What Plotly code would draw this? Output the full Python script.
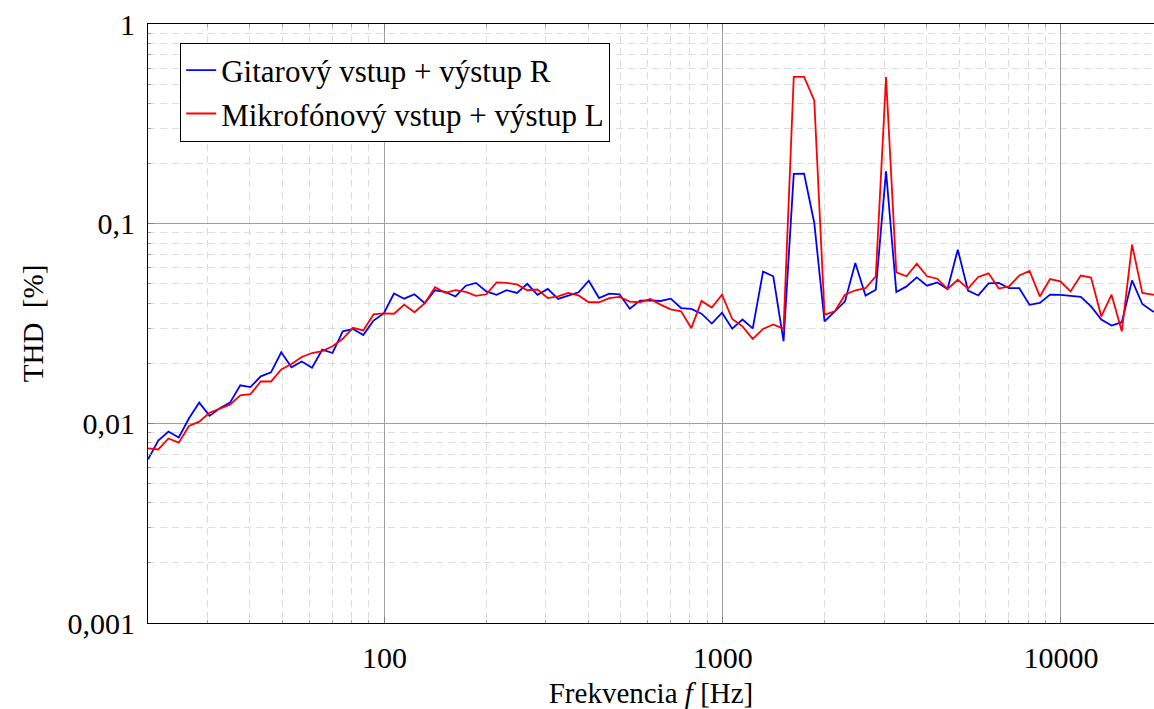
import plotly.graph_objects as go

# frekvencie merania (100 bodov, 20 Hz - 20 kHz)
frekvencia = [
    20.00, 21.45, 22.99, 24.66, 26.44, 28.35, 30.40, 32.60, 34.95, 37.48,
    40.18, 43.09, 46.20, 49.54, 53.12, 56.96, 61.08, 65.49, 70.22, 75.30,
    80.74, 86.58, 92.83, 99.54, 106.7, 114.4, 122.7, 131.6, 141.1, 151.3,
    162.2, 174.0, 186.5,
    200.0, 214.5, 229.9, 246.6, 264.4, 283.5, 304.0, 326.0, 349.5, 374.8,
    401.8, 430.9, 462.0, 495.4, 531.2, 569.6, 610.8, 654.9, 702.2, 753.0,
    807.4, 865.8, 928.3, 995.4, 1067, 1144, 1227, 1316, 1411, 1513,
    1622, 1740, 1865,
    2000, 2145, 2299, 2466, 2644, 2835, 3040, 3260, 3495, 3748,
    4018, 4309, 4620, 4954, 5312, 5696, 6108, 6549, 7022, 7530,
    8074, 8658, 9283, 9954, 10673, 11445, 12272, 13159, 14110, 15129,
    16223, 17395, 18652, 20000,
]

# THD [%] - gitarovy vstup + vystup R
thd_gitara = [
    0.0066, 0.0082, 0.0091, 0.0085, 0.0106, 0.0127, 0.0109, 0.0119, 0.0127, 0.0155,
    0.0152, 0.0172, 0.0180, 0.0227, 0.0191, 0.0204, 0.0190, 0.0234, 0.0225, 0.0289,
    0.0297, 0.0277, 0.0327, 0.0355, 0.0447,
    0.0421, 0.0443, 0.0400, 0.0464, 0.0455, 0.0432, 0.0489, 0.0505, 0.0458, 0.0440,
    0.0464, 0.0450, 0.0500, 0.0440, 0.0471, 0.0420, 0.0437, 0.0453, 0.0518, 0.0424,
    0.0446, 0.0443, 0.0375, 0.0412,
    0.0413, 0.0410, 0.0421, 0.0378, 0.0374, 0.0354, 0.0316, 0.0358, 0.0298, 0.0331,
    0.0299, 0.0575, 0.0545, 0.0258, 0.1774, 0.1780, 0.1008, 0.0324, 0.0364, 0.0408,
    0.0636, 0.0436, 0.0467, 0.1830,
    0.0455, 0.0485, 0.0538, 0.0489, 0.0508, 0.0471, 0.0741, 0.0462, 0.0437, 0.0502,
    0.0505, 0.0475, 0.0475, 0.0392, 0.0401, 0.0441, 0.0440, 0.0436, 0.0430, 0.0385,
    0.0331, 0.0309, 0.0321, 0.0520, 0.0396, 0.0364, 0.0350,
]

# THD [%] - mikrofonovy vstup + vystup L
thd_mikrofon = [
    0.0075, 0.0074, 0.0084, 0.0080, 0.0097, 0.0102, 0.0113, 0.0118, 0.0124, 0.0138,
    0.0140, 0.0162, 0.0162, 0.0186, 0.0198, 0.0215, 0.0225, 0.0230, 0.0243, 0.0265,
    0.0301, 0.0292, 0.0351, 0.0355, 0.0354,
    0.0393, 0.0360, 0.0400, 0.0480, 0.0450, 0.0465, 0.0455, 0.0435, 0.0443, 0.0508,
    0.0505, 0.0496, 0.0464, 0.0468, 0.0424, 0.0432, 0.0450, 0.0437, 0.0404, 0.0404,
    0.0424, 0.0430, 0.0407, 0.0404,
    0.0420, 0.0393, 0.0372, 0.0364, 0.0300, 0.0410, 0.0380, 0.0441, 0.0333, 0.0306,
    0.0265, 0.0297, 0.0313, 0.0297, 0.543, 0.543, 0.414, 0.0350, 0.0364, 0.0441,
    0.0464, 0.0475, 0.0545, 0.543,
    0.0570, 0.0545, 0.0630, 0.0545, 0.0530, 0.0471, 0.0524, 0.0473, 0.0541, 0.0564,
    0.0473, 0.0485, 0.0550, 0.0580, 0.0432, 0.0528, 0.0514, 0.0458, 0.0550, 0.0537,
    0.0343, 0.0441, 0.0289, 0.0785, 0.0450, 0.0441, 0.0440,
]

x_ticky = [100, 1000, 10000]
x_popisy = ['100', '1000', '10000']
y_ticky = [0.001, 0.01, 0.1, 1]
y_popisy = ['0,001', '0,01', '0,1', '1']

font_rodina = 'Liberation Serif'

fig = go.Figure()

fig.add_trace(go.Scatter(x=frekvencia, y=thd_gitara, mode='lines',
                         name='Gitarový vstup + výstup R',
                         line=dict(color='#0000ff', width=1.8)))
fig.add_trace(go.Scatter(x=frekvencia, y=thd_mikrofon, mode='lines',
                         name='Mikrofónový vstup + výstup L',
                         line=dict(color='#ff0000', width=1.8)))

os_spolocne = dict(
    type='log', automargin=False,
    showline=True, linecolor='black', linewidth=1.2,
    showgrid=True, gridcolor='#a0a0a0', gridwidth=1,
    ticks='inside', ticklen=6, tickcolor='#808080',
    tickfont=dict(family=font_rodina, size=30, color='black'),
    zeroline=False,
    minor=dict(dtick='D1', showgrid=True, gridcolor='#dcdcdc', griddash='7px,5px',
               gridwidth=1, ticks='inside', ticklen=3, tickcolor='#a0a0a0'),
)

fig.update_xaxes(**os_spolocne, range=[1.30103, 4.275], mirror='allticks',
                 tickmode='array', tickvals=x_ticky, ticktext=x_popisy,
                 ticklabelstandoff=8,
                 title=dict(text='Frekvencia <i>f</i> [Hz]',
                            font=dict(family=font_rodina, size=29, color='black')))
fig.update_yaxes(**os_spolocne, range=[-3, 0], mirror=False,
                 tickmode='array', tickvals=y_ticky, ticktext=y_popisy,
                 ticklabelstandoff=6,
                 title=dict(text='THD  [%]',
                            font=dict(family=font_rodina, size=29, color='black')))

fig.update_layout(
    width=1154, height=709,
    margin=dict(l=148, r=0, t=24, b=86),
    paper_bgcolor='white', plot_bgcolor='white',
    font=dict(family=font_rodina, size=30, color='black'),
    legend=dict(x=0.032, y=0.969, xanchor='left', yanchor='top',
                bgcolor='white', bordercolor='black', borderwidth=1,
                font=dict(family=font_rodina, size=31, color='black'),
                tracegroupgap=0),
    showlegend=True,
)

fig.write_html('out.html', config={'displayModeBar': False},
               post_script="document.body.style.margin='0';document.body.style.overflow='hidden';")
